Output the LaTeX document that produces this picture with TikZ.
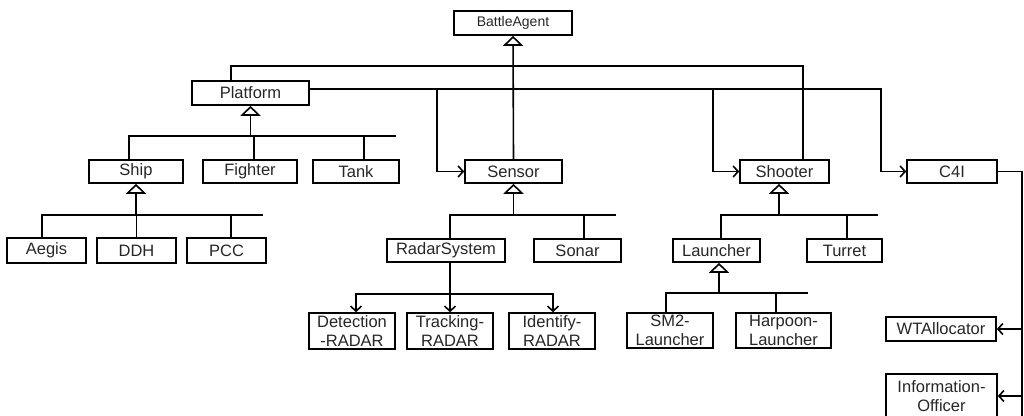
\documentclass[tikz,border=0pt]{standalone}
\usepackage{fontspec}
\setmainfont{Liberation Sans}
\usetikzlibrary{arrows.meta}
\begin{document}
\begin{tikzpicture}[x=1pt,y=-1pt,line width=1.6pt,
  box/.style={draw, inner sep=0pt, minimum height=23pt, text=black!85,
    font=\fontsize{16.5}{18.5}\selectfont, align=center},
  inh/.style={-{Triangle[open,width=20pt,length=10pt]}},
  assoc/.style={-{Straight Barb[length=5pt,width=11pt]}}]
\useasboundingbox (0,0) rectangle (1024,415);

% classes
\node[box, minimum width=118pt, minimum height=24pt, font=\fontsize{14}{16}\selectfont] (ba) at (513,23) {BattleAgent};
\node[box, minimum width=117pt, minimum height=24pt] (pf) at (250.5,93) {Platform};
\node[box, minimum width=97pt] (se) at (513.5,171.5) {Sensor};
\node[box, minimum width=89pt] (sh) at (784.5,171.5) {Shooter};
\node[box, minimum width=90pt] (c4) at (952,171.5) {C4I};
\node[box, minimum width=94pt] (ship) at (136,171.5) {Ship};
\node[box, minimum width=94pt] (fi) at (250,171.5) {Fighter};
\node[box, minimum width=86pt] (tk) at (356,171.5) {Tank};
\node[box, minimum width=79pt, minimum height=25pt] (ae) at (46.5,250.5) {Aegis};
\node[box, minimum width=79pt, minimum height=25pt] (ddh) at (136.5,250.5) {DDH};
\node[box, minimum width=79pt, minimum height=25pt] (pcc) at (226.5,250.5) {PCC};
\node[box, minimum width=118pt] (rs) at (446,250.5) {RadarSystem};
\node[box, minimum width=87pt] (so) at (577.5,250.5) {Sonar};
\node[box, minimum width=87pt] (la) at (716.5,250.5) {Launcher};
\node[box, minimum width=75pt] (tu) at (844.5,250.5) {Turret};
\node[box, minimum width=86pt, minimum height=36pt] (det) at (352,331) {Detection\\-RADAR};
\node[box, minimum width=86pt, minimum height=36pt] (trk) at (450,331) {Tracking-\\RADAR};
\node[box, minimum width=86pt, minimum height=36pt] (idf) at (552,331) {Identify-\\RADAR};
\node[box, minimum width=86pt, minimum height=35pt] (sm2) at (670,330.5) {SM2-\\Launcher};
\node[box, minimum width=95pt, minimum height=35pt] (hp) at (783.5,330.5) {Harpoon-\\Launcher};
\node[box, minimum width=110pt, minimum height=24pt] (wt) at (941,329) {WTAllocator};
\node[box, minimum width=111pt, minimum height=44pt] (io) at (941.5,396) {Information-\\Officer};

% bus points
\coordinate (bb) at (513,66);
\coordinate (pbR) at (396,136);
\coordinate (sbR) at (263,215);
\coordinate (ebR) at (616,215);
\coordinate (hbR) at (878,215);
\coordinate (lbR) at (808,293);
\coordinate (rb) at (450,294);
\coordinate (cb) at (1022,416);

% generalisation of BattleAgent
\draw[inh] (se.north) -- (ba.south);
\draw ([xshift=-19.5pt]pf.north) |- (bb) -| ([xshift=18.5pt]sh.north);

% Platform associations
\draw[assoc] ([yshift=4pt]pf.east) -| ([xshift=-27pt]se.west) -- (se.west);
\draw[assoc] ([yshift=4pt]pf.east) -| ([xshift=-26pt]sh.west) -- (sh.west);
\draw[assoc] ([yshift=4pt]pf.east) -| ([xshift=-25pt]c4.west) -- (c4.west);

% C4I associations
\draw (c4.east) -| (cb);
\draw[assoc] (cb |- wt.east) -- (wt.east);
\draw[assoc] (cb |- io.east) -- (io.east);

% Platform subclasses
\draw[inh] (pf.south |- pbR) -- (pf.south);
\draw ([xshift=-7pt]ship.north) |- (pbR);
\draw ([xshift=4pt]fi.north) |- (pbR);
\draw ([xshift=8pt]tk.north) |- (pbR);

% Ship subclasses
\draw[inh] (ship.south |- sbR) -- (ship.south);
\draw ([xshift=-4.5pt]ae.north) |- (sbR);
\draw (ddh.north) |- (sbR);
\draw ([xshift=4.5pt]pcc.north) |- (sbR);

% Sensor subclasses
\draw[inh] (se.south |- ebR) -- (se.south);
\draw ([xshift=4pt]rs.north) |- (ebR);
\draw ([xshift=6.5pt]so.north) |- (ebR);

% RadarSystem associations
\draw[assoc] ([xshift=4pt]rs.south) -- (trk.north);
\draw[assoc] (rb) -| ([xshift=4pt]det.north);
\draw[assoc] (rb) -| ([xshift=1pt]idf.north);

% Shooter subclasses
\draw[inh] ([xshift=-5.5pt]sh.south |- hbR) -- ([xshift=-5.5pt]sh.south);
\draw ([xshift=4.5pt]la.north) |- (hbR);
\draw ([xshift=2.5pt]tu.north) |- (hbR);

% Launcher subclasses
\draw[inh] ([xshift=2.5pt]la.south |- lbR) -- ([xshift=2.5pt]la.south);
\draw ([xshift=-4pt]sm2.north) |- (lbR);
\draw ([xshift=-7.5pt]hp.north) |- (lbR);
\end{tikzpicture}
\end{document}
